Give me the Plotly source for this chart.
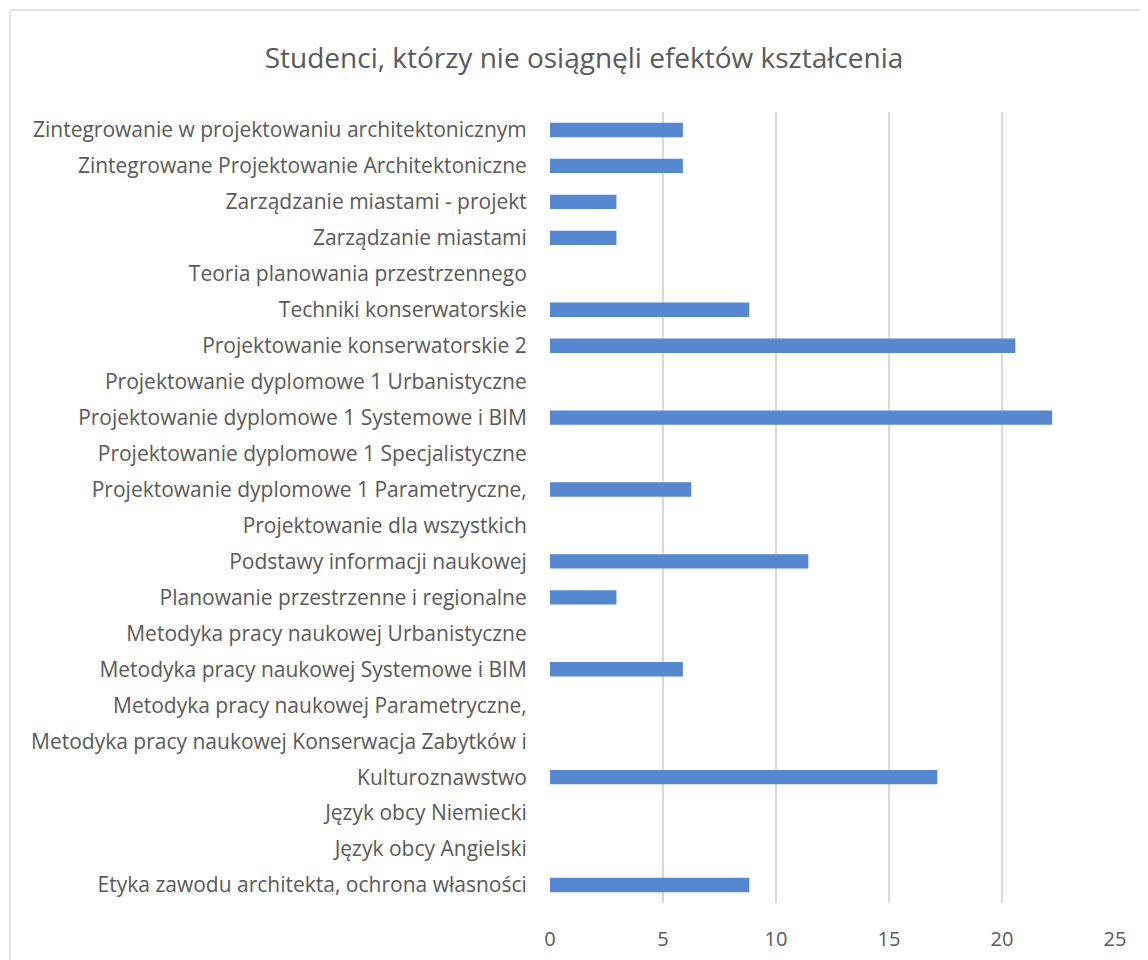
import plotly.graph_objects as go

title = "Studenci, którzy nie osiągnęli efektów kształcenia"

categories = [
    "Zintegrowanie w projektowaniu architektonicznym",
    "Zintegrowane Projektowanie Architektoniczne",
    "Zarządzanie miastami - projekt",
    "Zarządzanie miastami",
    "Teoria planowania przestrzennego",
    "Techniki konserwatorskie",
    "Projektowanie konserwatorskie 2",
    "Projektowanie dyplomowe 1 Urbanistyczne",
    "Projektowanie dyplomowe 1 Systemowe i BIM",
    "Projektowanie dyplomowe 1 Specjalistyczne",
    "Projektowanie dyplomowe 1 Parametryczne,",
    "Projektowanie dla wszystkich",
    "Podstawy informacji naukowej",
    "Planowanie przestrzenne i regionalne",
    "Metodyka pracy naukowej Urbanistyczne",
    "Metodyka pracy naukowej Systemowe i BIM",
    "Metodyka pracy naukowej Parametryczne,",
    "Metodyka pracy naukowej Konserwacja Zabytków i",
    "Kulturoznawstwo",
    "Język obcy Niemiecki",
    "Język obcy Angielski",
    "Etyka zawodu architekta, ochrona własności",
]

values = [5.88, 5.88, 2.94, 2.94, 0, 8.82, 20.59, 0, 22.22, 0, 6.25, 0,
          11.43, 2.94, 0, 5.88, 0, 0, 17.14, 0, 0, 8.82]

x_ticks = [0, 5, 10, 15, 20, 25]

W, H = 1148, 960
OFF = 8  # page body margin
L, R, T, B = 549.5 - OFF, 1115 - OFF, 112 - OFF, 903 - OFF

FONT = "Open Sans"
TXT = "#595959"

fig = go.Figure(go.Bar(
    x=values, y=categories, orientation="h",
    marker=dict(color="#5588D1", line=dict(width=0)),
    hoverinfo="x+y",
))

px_w = R - L
px_h = B - T

def px2paper_x(px):
    return (px - OFF - L) / px_w

def px2paper_y(py):
    return (B - (py - OFF)) / px_h

fig.update_layout(
    width=W, height=H,
    margin=dict(l=L, r=W - R, t=T, b=H - B, pad=0),
    paper_bgcolor="white", plot_bgcolor="white",
    bargap=0.6,
    showlegend=False,
    title=dict(text=title, x=(584 - OFF) / W, xanchor="center", xref="container",
               y=1 - (58 - OFF) / H, yanchor="middle", yref="container",
               font=dict(family=FONT, size=28, color=TXT)),
    xaxis=dict(range=[0, 25], tickvals=x_ticks, showgrid=True,
               gridcolor="#D9D9D9", gridwidth=1.5, zeroline=False,
               showline=False, ticks="outside", ticklen=18,
               tickcolor="rgba(0,0,0,0)",
               tickfont=dict(family=FONT, size=20, color=TXT)),
    yaxis=dict(autorange="reversed", showgrid=False, zeroline=False,
               showline=False, ticks="outside", ticklen=18,
               tickcolor="rgba(0,0,0,0)",
               tickfont=dict(family=FONT, size=21, color=TXT)),
    shapes=[
        dict(type="line", xref="paper", yref="paper",
             x0=px2paper_x(9), x1=px2paper_x(1170),
             y0=px2paper_y(10), y1=px2paper_y(10),
             line=dict(color="#D9D9D9", width=1.5)),
        dict(type="line", xref="paper", yref="paper",
             x0=px2paper_x(9), x1=px2paper_x(9),
             y0=px2paper_y(10), y1=px2paper_y(990),
             line=dict(color="#D9D9D9", width=1.5)),
    ],
)

fig.write_html("out.html")
